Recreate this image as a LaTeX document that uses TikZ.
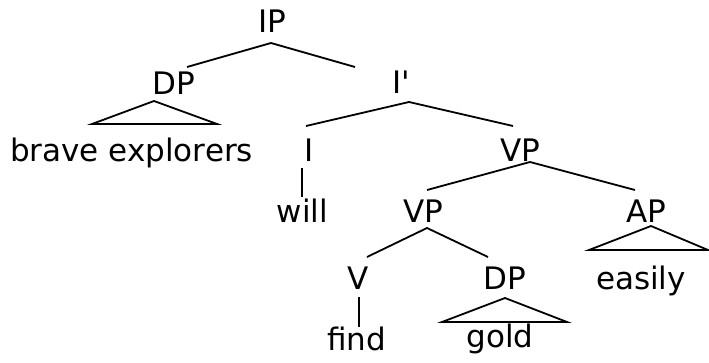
\documentclass[tikz,border=0pt]{standalone}
\usepackage{fontspec}
\setmainfont{DejaVu Sans}

\begin{document}
\begin{tikzpicture}[x=1pt,y=-1pt,line width=1.8pt,
	every node/.style={anchor=base,inner sep=0,outer sep=0,font=\fontsize{31}{37}\selectfont}]
	\useasboundingbox (0,0) rectangle (709,363);
	% labels
	\node (ip) at (272,33) {IP};
	\node (dp1) at (173.5,95) {DP};
	\node (brave) at (131.5,162) {brave explorers};
	\node (ibar) at (401,94) {I\textquotesingle};
	\node (i) at (309,162) {I};
	\node (will) at (302.5,223) {will};
	\node (vp1) at (520,162) {VP};
	\node (vp2) at (423.5,223) {VP};
	\node (ap) at (646,223) {AP};
	\node (easily) at (641,290) {easily};
	\node (v) at (358.5,290) {V};
	\node (find) at (356.5,350) {find};
	\node (dp2) at (505,290) {DP};
	\node (gold) at (500,347) {gold};
	% branch ends
	\coordinate (ip-b) at (271,43);
	\coordinate (dp1-t) at (187,67);
	\coordinate (ibar-t) at (355,67);
	\coordinate (ibar-b) at (409,102);
	\coordinate (i-t) at (306,126);
	\coordinate (vp1-t) at (513,126);
	\coordinate (i-b) at (302,168);
	\coordinate (will-t) at (302,197);
	\coordinate (vp1-b) at (530,162);
	\coordinate (vp2-t) at (427,190);
	\coordinate (ap-t) at (635,190);
	\coordinate (vp2-b) at (427,228);
	\coordinate (v-t) at (367,257);
	\coordinate (dp2-t) at (488,257);
	\coordinate (v-b) at (359,297);
	\coordinate (find-t) at (359,327);
	% roofs
	\coordinate (dp1-a) at (154,101);
	\coordinate (dp1-l) at (92,124);
	\coordinate (dp1-r) at (217,124);
	\coordinate (ap-a) at (651,226);
	\coordinate (ap-l) at (589,250);
	\coordinate (ap-r) at (708,250);
	\coordinate (dp2-a) at (505,298);
	\coordinate (dp2-l) at (442,322);
	\coordinate (dp2-r) at (567,322);
	\draw (dp1-t) -- (ip-b) -- (ibar-t);
	\draw (i-t) -- (ibar-b) -- (vp1-t);
	\draw (i-b) -- (will-t);
	\draw (vp2-t) -- (vp1-b) -- (ap-t);
	\draw (v-t) -- (vp2-b) -- (dp2-t);
	\draw (v-b) -- (find-t);
	\draw (dp1-a) -- (dp1-l) -- (dp1-r) -- cycle;
	\draw (ap-a) -- (ap-l) -- (ap-r) -- cycle;
	\draw (dp2-a) -- (dp2-l) -- (dp2-r) -- cycle;
\end{tikzpicture}
\end{document}
